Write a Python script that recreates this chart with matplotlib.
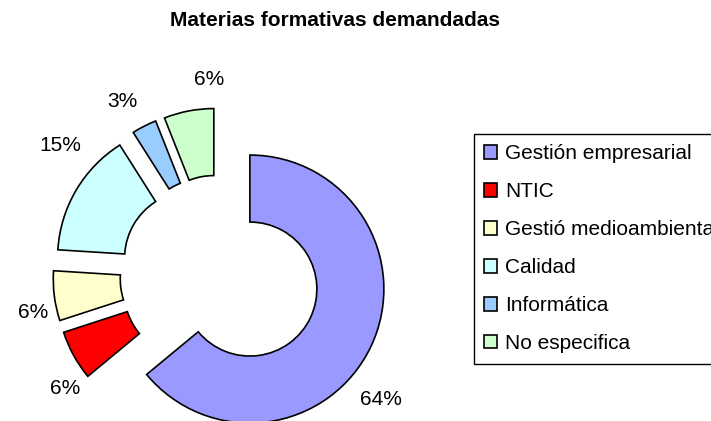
import matplotlib
matplotlib.use("Agg")
import matplotlib.pyplot as plt
import numpy as np

plt.rcParams['font.family'] = ['Liberation Sans', 'DejaVu Sans']

title = "Materias formativas demandadas"
categories = ["Gestión empresarial", "NTIC", "Gestió medioambiental",
              "Calidad", "Informática", "No especifica"]
values = [64, 6, 6, 15, 3, 6]
colors = ["#9999FF", "#FF0000", "#FFFFCC", "#CCFFFF", "#99CCFF", "#CCFFCC"]

# label placement tweaks (angle offset in degrees, distance in radii)
label_angle_tweak = [-15, 9, 5, -10, 3, -9]
label_dist = [1.28, 1.19, 1.18, 1.29, 1.24, 1.22]

W, H = 711, 421
fig = plt.figure(figsize=(W / 100, H / 100), dpi=100)
ax = fig.add_axes([0, 0, 1, 1])

R = 134
cx, cy = 220, 146
explode_d = 33

wedges, _ = ax.pie(values, colors=colors, startangle=90, counterclock=False,
                   radius=R, center=(cx, cy),
                   explode=[explode_d] * len(values),
                   wedgeprops=dict(width=R * 0.5, edgecolor='black', linewidth=1.2))

for w, v, tw, ld in zip(wedges, values, label_angle_tweak, label_dist):
    mid = np.deg2rad((w.theta1 + w.theta2) / 2)
    ecx, ecy = w.center
    a = mid + np.deg2rad(tw)
    ax.text(ecx + ld * R * np.cos(a), ecy + ld * R * np.sin(a), f"{v}%",
            ha='center', va='center', fontsize=15, color='black')

ax.set_xlim(0, W)
ax.set_ylim(0, H)
ax.set_aspect('equal')
ax.axis('off')

fig.text(335 / W, 1 - 20 / H, title, ha='center', va='center',
         fontsize=15, fontweight='bold')

leg = fig.legend(wedges, categories, loc='upper left',
                 bbox_to_anchor=(474 / W, 1 - 134 / H), borderaxespad=0,
                 fontsize=15, handlelength=0.6, handleheight=0.6,
                 handletextpad=0.4, labelspacing=0.91, borderpad=0.5,
                 fancybox=False, framealpha=1, edgecolor='black')
leg.get_frame().set_linewidth(1.0)

fig.savefig("out.png", dpi=100)
